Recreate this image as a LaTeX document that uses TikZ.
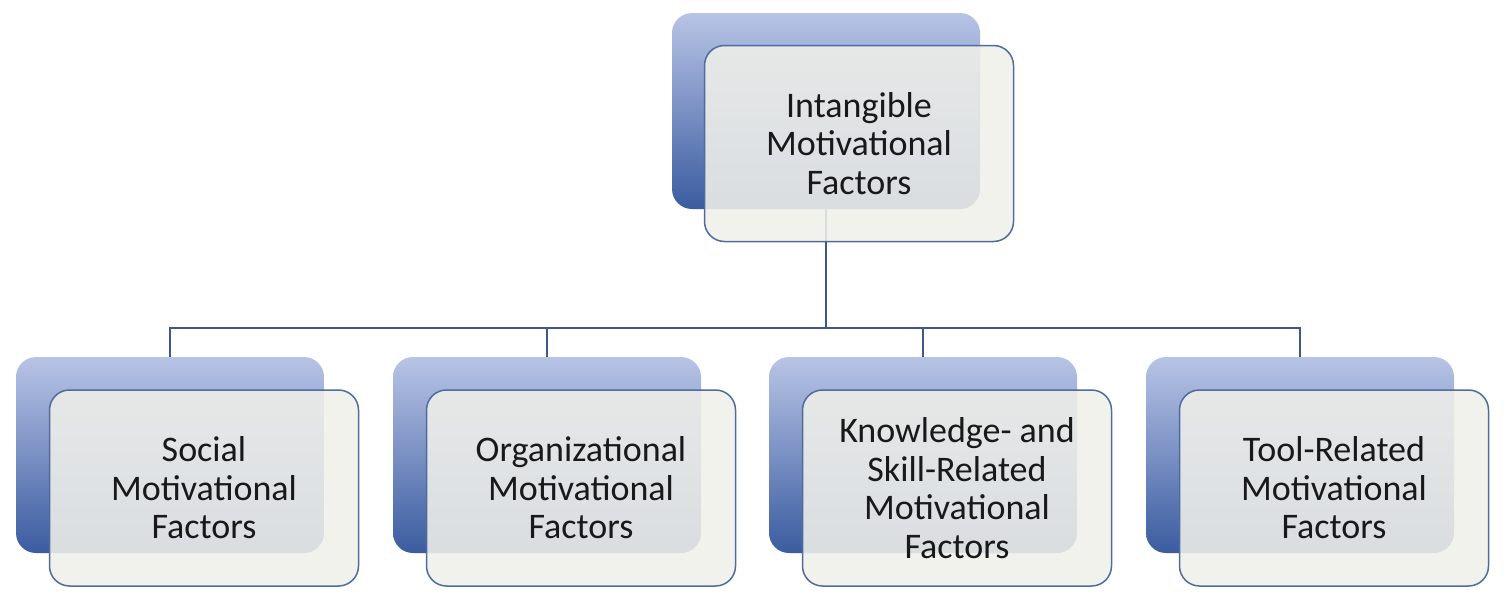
\documentclass[tikz,border=0pt]{standalone}
\usepackage{fontspec}
\setmainfont{Carlito}
\definecolor{backtop}{RGB}{184,196,230}
\definecolor{backbot}{RGB}{58,92,160}
\definecolor{frontfill}{RGB}{240,240,234}
\definecolor{frontedge}{RGB}{80,108,156}
\definecolor{linkcol}{RGB}{62,88,136}
\definecolor{txtcol}{RGB}{25,25,25}
\tikzset{
  backbox/.style={rounded corners=20pt, top color=backtop, bottom color=backbot, draw=none},
  frontbox/.style={rounded corners=20pt, fill=frontfill, fill opacity=0.88, draw=frontedge, line width=1.5pt},
  label/.style={align=center, text=txtcol, font=\fontsize{36}{38.5}\selectfont},
  link/.style={draw=linkcol, line width=2pt},
}
\begin{document}
\begin{tikzpicture}[x=1pt,y=-1pt]
\useasboundingbox (0,0) rectangle (1510,608);
% back boxes as nodes
\node[backbox, minimum width=308pt, minimum height=196pt, inner sep=0pt] (topback) at (826,111) {};
\node[backbox, minimum width=308pt, minimum height=196pt, inner sep=0pt] (b1back) at (170,455) {};
\node[backbox, minimum width=308pt, minimum height=196pt, inner sep=0pt] (b2back) at (547,455) {};
\node[backbox, minimum width=308pt, minimum height=196pt, inner sep=0pt] (b3back) at (923,455) {};
\node[backbox, minimum width=308pt, minimum height=196pt, inner sep=0pt] (b4back) at (1300,455) {};
% connectors
\coordinate (juncy) at (0,328);
\coordinate (junc) at (topback.south |- juncy);
\draw[link] (topback.south) -- (junc);
\draw[link] (b1back.north) |- (junc);
\draw[link] (b4back.north) |- (junc);
\draw[link] (b2back.north) -- (b2back.north |- junc);
\draw[link] (b3back.north) -- (b3back.north |- junc);
% front boxes
\node[frontbox, minimum width=309pt, minimum height=196pt, inner sep=0pt] (topfront) at (859,143.5) {};
\node[frontbox, minimum width=309pt, minimum height=196pt, inner sep=0pt] (b1front) at (204,488) {};
\node[frontbox, minimum width=309pt, minimum height=196pt, inner sep=0pt] (b2front) at (581,488) {};
\node[frontbox, minimum width=309pt, minimum height=196pt, inner sep=0pt] (b3front) at (957,488) {};
\node[frontbox, minimum width=309pt, minimum height=196pt, inner sep=0pt] (b4front) at (1334,488) {};
% labels
\node[label] (toptext) at (topfront.center) {Intangible\\Motivational\\Factors};
\node[label] (b1text) at (b1front.center) {Social\\Motivational\\Factors};
\node[label] (b2text) at (b2front.center) {Organizational\\Motivational\\Factors};
\node[label] (b3text) at (b3front.center) {Knowledge- and\\Skill-Related\\Motivational\\Factors};
\node[label] (b4text) at (b4front.center) {Tool-Related\\Motivational\\Factors};
\end{tikzpicture}
\end{document}
